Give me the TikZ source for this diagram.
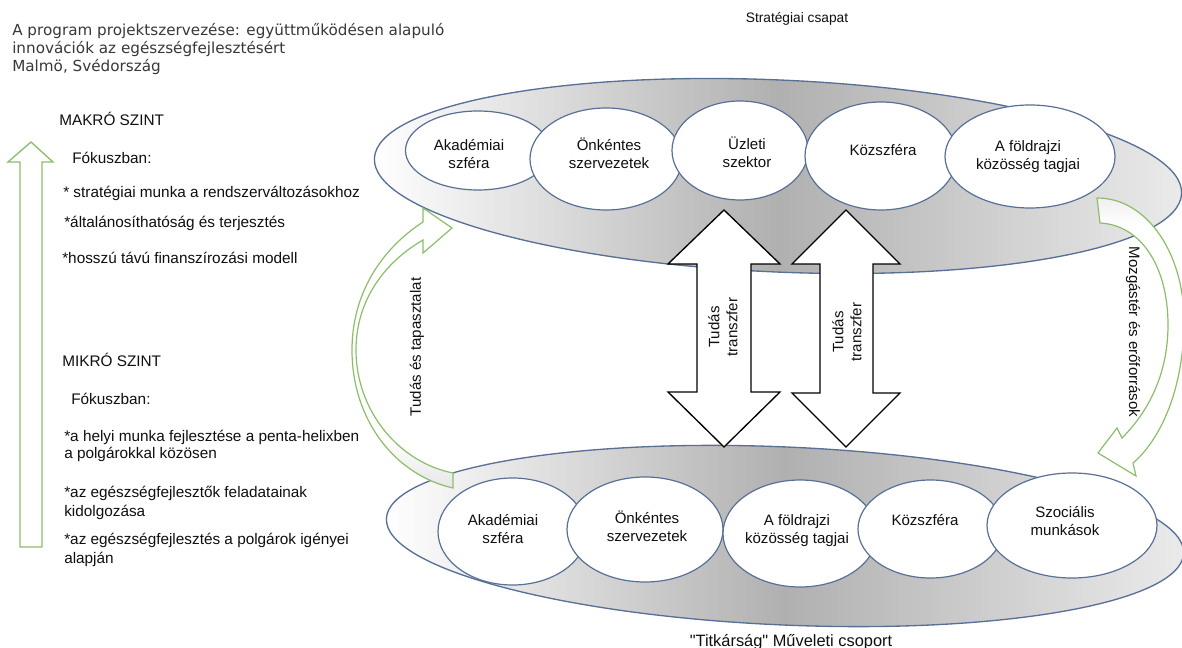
\documentclass[tikz,border=0pt]{standalone}
\usepackage{fontspec}
\setmainfont{Liberation Sans}
\newfontfamily\titlefont{DejaVu Sans}
\newfontfamily\noligfont[Ligatures=TeXOff]{Liberation Sans}
\usetikzlibrary{shapes.geometric}
\definecolor{ellblue}{RGB}{88,112,150}
\definecolor{grn}{RGB}{140,190,105}
\definecolor{txtc}{RGB}{15,15,15}
\colorlet{bandgray}{gray!40}
\colorlet{bandgrayb}{gray!34}
\pgfdeclareverticalshading{curvL}{100bp}{color(0bp)=(bandgray); color(18bp)=(bandgrayb); color(34bp)=(white); color(100bp)=(white)}
\pgfdeclareverticalshading{curvR}{100bp}{color(0bp)=(white); color(70bp)=(white); color(84bp)=(bandgrayb); color(100bp)=(bandgray)}
\begin{document}
\begin{tikzpicture}[x=0.75pt,y=-0.75pt,
  ltxt/.style={anchor=base west, inner sep=0pt, text=txtc, font=\fontsize{11.5}{13.5}\selectfont},
  ttxt/.style={anchor=base west, inner sep=0pt, text=black!78, font=\titlefont\fontsize{11.4}{13}\selectfont},
  lbl/.style={inner sep=0pt, align=center, text=txtc, font=\fontsize{11.3}{13.5}\selectfont},
  iell/.style={ellipse, draw=ellblue, line width=0.9pt, fill=white, inner sep=0pt},
  bell/.style={ellipse, draw=ellblue, line width=1pt, inner sep=0pt, left color=white, right color=gray!16, middle color=gray!62},
  blockarrow/.style={draw=black, line width=1pt, fill=white, line join=miter},
  greenarrow/.style={draw=grn, line width=1pt, fill=white},
  bandarrow/.style={draw=grn, line width=0.9pt}
]
\useasboundingbox (0,0) rectangle (1182,648);
\fill[white] (0,0) rectangle (1182,648);

% title
\node[ttxt] (t1) at (12,36) {A program projektszervezése: együttműködésen alapuló};
\node[ttxt] (t2) at (12,54) {innovációk az egészségfejlesztésért};
\node[ttxt] (t3) at (12,72) {Malmö, Svédország};

% left green arrow
\draw[greenarrow] (31,142) -- (53,162) -- (42,162) -- (42,547) -- (20,547) -- (20,162) -- (8,162) -- cycle;

% left texts
\node[ltxt] (m1) at (59,126) {MAKRÓ SZINT};
\node[ltxt] (m2) at (72,164) {Fókuszban:};
\node[ltxt] (m3) at (63,198) {* stratégiai munka a rendszerváltozásokhoz};
\node[ltxt] (m4) at (64,228) {*általánosíthatóság és terjesztés};
\node[ltxt] (m5) at (62,264) {*hosszú távú finanszírozási modell};
\node[ltxt] (n1) at (62,367) {MIKRÓ SZINT};
\node[ltxt] (n2) at (71,405) {Fókuszban:};
\node[ltxt] (n3) at (64,442) {*a helyi munka fejlesztése a penta-helixben};
\node[ltxt] (n4) at (64,459) {a polgárokkal közösen};
\node[ltxt] (n5) at (64,498) {*az egészségfejlesztők feladatainak};
\node[ltxt] (n6) at (64,517) {kidolgozása};
\node[ltxt] (n7) at (64,544) {*az egészségfejlesztés a polgárok igényei};
\node[ltxt] (n8) at (64,563) {alapján};

% headings of the two groups
\node[lbl, anchor=base, font=\fontsize{10.3}{12}\selectfont] (strat) at (797,23) {Stratégiai csapat};
\node[lbl, anchor=base, font=\noligfont\fontsize{12.3}{14}\selectfont] (titk) at (791,646) {"Titkárság" Műveleti csoport};

% big ellipses
\node[bell, minimum width=606pt, minimum height=144pt, rotate=-2.5] (top) at (778,176) {};
\node[bell, minimum width=598.5pt, minimum height=133.5pt, rotate=-2.5] (bot) at (785,536) {};

% top row
\node[iell, minimum width=108.75pt, minimum height=59.25pt] (a1) at (478,150.5) {};
\node[iell, minimum width=114pt, minimum height=76.5pt] (a2) at (606,159) {};
\node[iell, minimum width=102pt, minimum height=74.25pt] (a3) at (740,150.5) {};
\node[iell, minimum width=114pt, minimum height=81pt] (a4) at (881,156) {};
\node[iell, minimum width=127.5pt, minimum height=77.25pt] (a5) at (1030,156.5) {};
\node[lbl] (a1t) at (469,154) {Akadémiai\\szféra};
\node[lbl] (a2t) at (609,153) {Önkéntes\\szervezetek};
\node[lbl] (a3t) at (747,152) {Üzleti\\szektor};
\node[lbl] (a4t) at (883,150) {Közszféra};
\node[lbl] (a5t) at (1028,156.5) {A földrajzi\\közösség tagjai};

% bottom row
\node[iell, minimum width=111.75pt, minimum height=80.25pt] (b1) at (512.5,531.5) {};
\node[iell, minimum width=117pt, minimum height=78.75pt] (b2) at (645,529.5) {};
\node[iell, minimum width=115.5pt, minimum height=80.25pt] (b3) at (800,533.5) {};
\node[iell, minimum width=108.75pt, minimum height=73.5pt] (b4) at (930.5,529) {};
\node[iell, minimum width=127.5pt, minimum height=78.75pt] (b5) at (1072,525.5) {};
\node[lbl] (b1t) at (503,529) {Akadémiai\\szféra};
\node[lbl] (b2t) at (647,526) {Önkéntes\\szervezetek};
\node[lbl] (b3t) at (797,531) {A földrajzi\\közösség tagjai};
\node[lbl] (b4t) at (925,520) {Közszféra};
\node[lbl] (b5t) at (1065,521) {Szociális\\munkások};

% knowledge transfer double arrows
\draw[blockarrow] (724,210) -- (780,264) -- (751,264) -- (751,392) -- (780,392) -- (724,447) -- (668,392) -- (697,392) -- (697,264) -- (668,264) -- cycle;
\draw[blockarrow] (846,210) -- (900,264) -- (873,264) -- (873,393) -- (900,393) -- (846,447) -- (792,393) -- (820,393) -- (820,264) -- (792,264) -- cycle;
\node[lbl, rotate=90] (k1) at (723,327) {Tudás\\transzfer};
\node[lbl, rotate=90] (k2) at (847,332) {Tudás\\transzfer};

% left curved arrow (Tudás és tapasztalat)
\path[bandarrow, shading=curvL] (453,488) .. controls (395,475) and (352,420) .. (352,350) .. controls (352,295) and (380,250) .. (423,222) -- (423,208) -- (452,228) -- (423,253) -- (423,240) .. controls (385,262) and (356,300) .. (356,350) .. controls (356,410) and (398,462) .. (453,473) -- cycle;
\node[lbl, rotate=90] (kt) at (417,347) {Tudás és tapasztalat};

% right curved arrow (Mozgástér és erőforrások)
\path[bandarrow, shading=curvR] (1097,198) .. controls (1148,198) and (1184,255) .. (1184,320) .. controls (1184,390) and (1160,440) .. (1133,463) -- (1136,476) -- (1098,453) -- (1117,428) -- (1122,438) .. controls (1150,410) and (1168,372) .. (1168,325) .. controls (1168,265) and (1140,225) .. (1100,223) -- cycle;
\node[lbl, rotate=-90] (me) at (1133,332) {Mozgástér és erőforrások};
\end{tikzpicture}
\end{document}
